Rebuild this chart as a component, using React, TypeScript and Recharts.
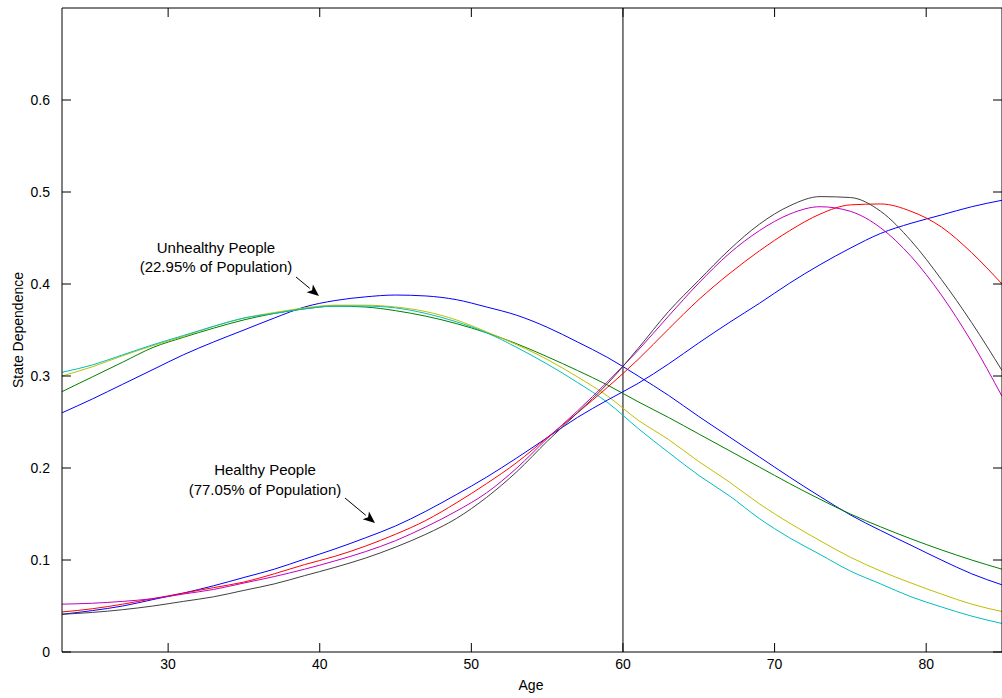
import { LineChart, Line, XAxis, YAxis, ReferenceLine } from "recharts";

// ages sampled every two years
const ages = [23, 25, 27, 29, 31, 33, 35, 37, 39, 41, 43, 45, 47, 49, 51, 53, 55, 57, 59, 61, 63, 65, 67, 69, 71, 73, 75, 77, 79, 81, 83, 85];

// unhealthy people (peak around 40-45)
const unhealthyBlue = [0.26, 0.275, 0.291, 0.307, 0.323, 0.337, 0.35, 0.363, 0.375, 0.382, 0.386, 0.388, 0.387, 0.383, 0.375, 0.366, 0.353, 0.337, 0.32, 0.3, 0.279, 0.256, 0.234, 0.212, 0.19, 0.169, 0.149, 0.132, 0.116, 0.1, 0.085, 0.073];
const unhealthyGreen = [0.283, 0.299, 0.315, 0.331, 0.342, 0.352, 0.361, 0.368, 0.373, 0.376, 0.375, 0.371, 0.365, 0.357, 0.347, 0.335, 0.321, 0.306, 0.29, 0.272, 0.255, 0.237, 0.219, 0.201, 0.183, 0.166, 0.15, 0.136, 0.123, 0.111, 0.1, 0.09];
const unhealthyYellow = [0.3, 0.31, 0.322, 0.333, 0.343, 0.354, 0.363, 0.369, 0.374, 0.377, 0.377, 0.375, 0.37, 0.361, 0.348, 0.334, 0.318, 0.299, 0.278, 0.252, 0.231, 0.207, 0.185, 0.161, 0.14, 0.121, 0.103, 0.088, 0.075, 0.063, 0.052, 0.044];
const unhealthyCyan = [0.304, 0.312, 0.323, 0.334, 0.344, 0.354, 0.363, 0.368, 0.373, 0.376, 0.376, 0.374, 0.368, 0.359, 0.347, 0.331, 0.313, 0.293, 0.271, 0.243, 0.217, 0.192, 0.17, 0.145, 0.124, 0.106, 0.088, 0.074, 0.06, 0.049, 0.039, 0.031];

// healthy people (rising, peak in the 70s)
const healthyBlue = [0.041, 0.045, 0.05, 0.057, 0.064, 0.072, 0.081, 0.09, 0.101, 0.112, 0.124, 0.137, 0.153, 0.171, 0.19, 0.211, 0.233, 0.255, 0.274, 0.292, 0.313, 0.336, 0.358, 0.379, 0.401, 0.421, 0.439, 0.455, 0.466, 0.475, 0.484, 0.491];
const healthyRed = [0.0435, 0.047, 0.052, 0.058, 0.064, 0.07, 0.076, 0.085, 0.095, 0.104, 0.115, 0.128, 0.143, 0.162, 0.183, 0.206, 0.233, 0.26, 0.288, 0.318, 0.351, 0.383, 0.411, 0.436, 0.458, 0.476, 0.486, 0.487, 0.479, 0.462, 0.434, 0.4];
const healthyMagenta = [0.052, 0.053, 0.055, 0.058, 0.063, 0.068, 0.075, 0.082, 0.09, 0.099, 0.109, 0.121, 0.136, 0.153, 0.173, 0.2, 0.232, 0.262, 0.294, 0.328, 0.365, 0.401, 0.433, 0.458, 0.476, 0.484, 0.479, 0.461, 0.43, 0.388, 0.337, 0.278];
const healthyGray = [0.041, 0.043, 0.046, 0.05, 0.055, 0.06, 0.067, 0.074, 0.083, 0.092, 0.102, 0.114, 0.128, 0.145, 0.168, 0.196, 0.229, 0.26, 0.292, 0.33, 0.37, 0.404, 0.437, 0.465, 0.485, 0.495, 0.494, 0.479, 0.447, 0.405, 0.358, 0.306];

const xTicks = [30, 40, 50, 60, 70, 80];
const yTicks = [0, 0.1, 0.2, 0.3, 0.4, 0.5, 0.6];

const data = ages.map((age, i) => ({
  age,
  ub: unhealthyBlue[i],
  ug: unhealthyGreen[i],
  uy: unhealthyYellow[i],
  uc: unhealthyCyan[i],
  hb: healthyBlue[i],
  hr: healthyRed[i],
  hm: healthyMagenta[i],
  hk: healthyGray[i],
}));

const series = [
  { key: "ub", color: "#0000ff" },
  { key: "ug", color: "#008000" },
  { key: "uy", color: "#bfbf00" },
  { key: "uc", color: "#00bfbf" },
  { key: "hb", color: "#0000ff" },
  { key: "hr", color: "#ff0000" },
  { key: "hm", color: "#bf00bf" },
  { key: "hk", color: "#404040" },
];

const font = "'Liberation Sans', Arial, sans-serif";
const TICK = 9;

// matlab style ticks: marks point into the plot
const BottomTick = (p: any) => (
  <g>
    <line x1={p.x} x2={p.x} y1={p.y - 7} y2={p.y - 7 - TICK} stroke="#000" />
    <text x={p.x} y={p.y} dy="0.71em" textAnchor="middle" fill="#000" fontSize={14} fontFamily={font}>
      {p.payload.value}
    </text>
  </g>
);
const LeftTick = (p: any) => (
  <g>
    <line x1={p.x + 12} x2={p.x + 12 + TICK} y1={p.y} y2={p.y} stroke="#000" />
    <text x={p.x} y={p.y} dy="0.355em" textAnchor="end" fill="#000" fontSize={14} fontFamily={font}>
      {p.payload.value}
    </text>
  </g>
);
const TopTick = (p: any) => <line x1={p.x} x2={p.x} y1={p.y} y2={p.y + TICK} stroke="#000" />;
const RightTick = (p: any) => <line x1={p.x} x2={p.x - TICK} y1={p.y} y2={p.y} stroke="#000" />;

function Arrow({ x1, y1, x2, y2 }: { x1: number; y1: number; y2: number; x2: number }) {
  const a = Math.atan2(y2 - y1, x2 - x1);
  const len = 12;
  const w = 5;
  const bx = x2 - len * Math.cos(a);
  const by = y2 - len * Math.sin(a);
  const px = -Math.sin(a) * w;
  const py = Math.cos(a) * w;
  return (
    <g>
      <line x1={x1} y1={y1} x2={bx} y2={by} stroke="#000" strokeWidth={1} />
      <polygon points={`${x2},${y2} ${bx + px},${by + py} ${bx + 3 * Math.cos(a)},${by + 3 * Math.sin(a)} ${bx - px},${by - py}`} fill="#000" />
    </g>
  );
}

export default function App() {
  return (
    <div style={{ position: "absolute", left: 0, top: 0, width: 1002, height: 698, overflow: "hidden", background: "#fff" }}>
      <LineChart
        width={1003}
        height={698}
        data={data}
        margin={{ top: 7, right: 0, bottom: 0, left: 0 }}
        style={{ fontFamily: font }}
      >
        <XAxis
          xAxisId="b"
          dataKey="age"
          type="number"
          domain={[23, 85]}
          ticks={xTicks}
          height={46}
          tickSize={0}
          tickMargin={7}
          tickLine={false}
          tick={BottomTick}
          stroke="#000"
          allowDataOverflow
        />
        <XAxis
          xAxisId="t"
          dataKey="age"
          orientation="top"
          type="number"
          domain={[23, 85]}
          ticks={xTicks}
          height={1}
          tickSize={0}
          tickMargin={0}
          tickLine={false}
          tick={TopTick}
          stroke="#000"
          allowDataOverflow
        />
        <YAxis
          yAxisId="l"
          type="number"
          domain={[0, 0.7]}
          ticks={yTicks}
          width={62}
          tickSize={0}
          tickMargin={12}
          tickLine={false}
          tick={LeftTick}
          stroke="#000"
          allowDataOverflow
        />
        <YAxis
          yAxisId="r"
          orientation="right"
          type="number"
          domain={[0, 0.7]}
          ticks={yTicks}
          width={1}
          tickSize={0}
          tickMargin={0}
          tickLine={false}
          tick={RightTick}
          stroke="#000"
          allowDataOverflow
        />
        <ReferenceLine x={60} xAxisId="b" yAxisId="l" stroke="#000" strokeWidth={1} />
        {series.map((s) => (
          <Line
            key={s.key}
            xAxisId="b"
            yAxisId="l"
            dataKey={s.key}
            type="monotone"
            stroke={s.color}
            strokeWidth={1}
            dot={false}
            activeDot={false}
            isAnimationActive={false}
          />
        ))}
        {/* invisible copy so the top/right frame axes get drawn */}
        <Line
          xAxisId="t"
          yAxisId="r"
          dataKey="hb"
          stroke="none"
          dot={false}
          activeDot={false}
          legendType="none"
          isAnimationActive={false}
        />
      </LineChart>
      <svg
        width={1002}
        height={698}
        style={{ position: "absolute", left: 0, top: 0, pointerEvents: "none" }}
        fontFamily={font}
        fontSize={15}
        fill="#000"
      >
        <text x={216} y={253} textAnchor="middle">Unhealthy People</text>
        <text x={216} y={272} textAnchor="middle">(22.95% of Population)</text>
        <Arrow x1={296} y1={277} x2={319} y2={296} />
        <text x={265} y={475} textAnchor="middle">Healthy People</text>
        <text x={265} y={495} textAnchor="middle">(77.05% of Population)</text>
        <Arrow x1={345} y1={498} x2={375} y2={523} />
        <text x={531} y={690} textAnchor="middle" fontSize={14}>Age</text>
        <text transform="translate(23,330) rotate(-90)" textAnchor="middle" fontSize={14}>State Dependence</text>
      </svg>
    </div>
  );
}
